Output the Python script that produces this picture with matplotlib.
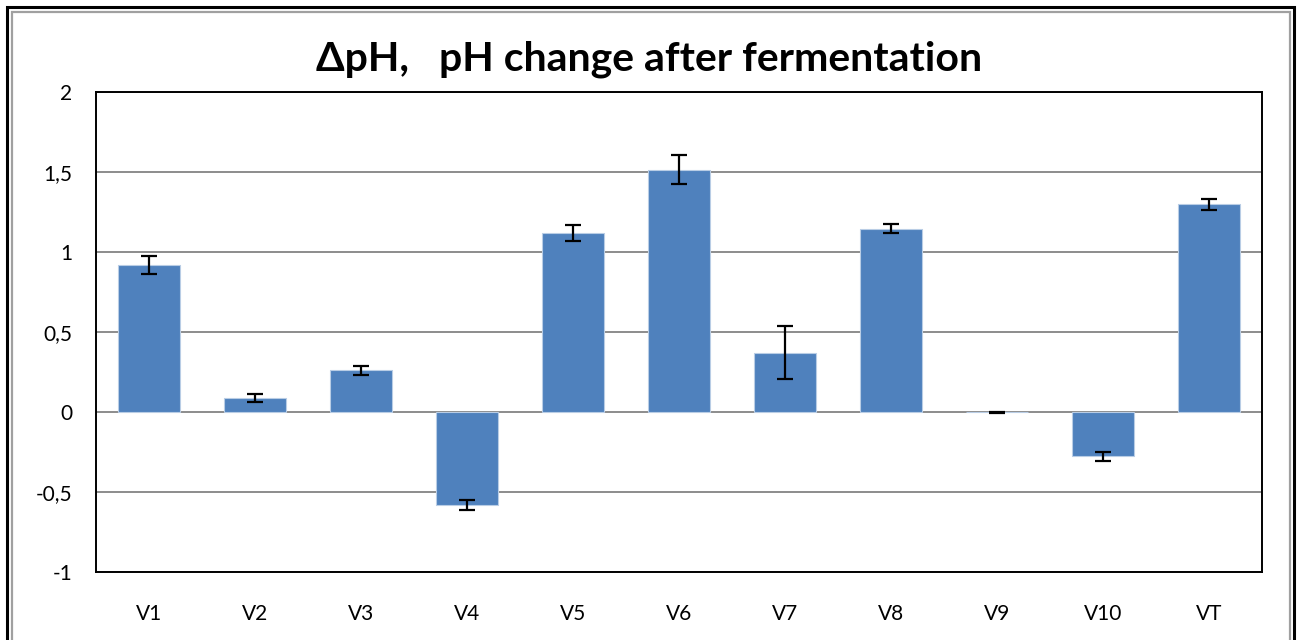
import matplotlib.pyplot as plt
from matplotlib.patches import Rectangle
from matplotlib.ticker import FuncFormatter

labels = ["V1", "V2", "V3", "V4", "V5", "V6", "V7", "V8", "V9", "V10", "VT"]
delta_ph = [0.92, 0.09, 0.26, -0.58, 1.12, 1.515, 0.37, 1.145, 0.0, -0.275, 1.30]
err = [0.058, 0.025, 0.03, 0.033, 0.05, 0.09, 0.165, 0.028, 0.003, 0.028, 0.034]

plt.rcParams["font.family"] = ["Lato", "DejaVu Sans"]

fig = plt.figure(figsize=(13.03, 6.4), dpi=100)
ax = fig.add_axes([0.0737, 0.10625, 0.8948, 0.74975])

x = range(len(labels))
ax.bar(x, delta_ph, width=0.58, color="#4F81BD", edgecolor="#B9CDE5", linewidth=0.8, zorder=3)
ax.errorbar(x, delta_ph, yerr=err, fmt="none", ecolor="black", elinewidth=1.6,
            capsize=5.5, capthick=1.6, zorder=4)

ax.set_xlim(-0.5, len(labels) - 0.5)
ax.set_ylim(-1, 2)
ax.set_yticks([-1, -0.5, 0, 0.5, 1, 1.5, 2])
ax.yaxis.set_major_formatter(FuncFormatter(lambda v, p: ("%g" % v).replace(".", ",")))
ax.set_xticks(list(x))
ax.set_xticklabels(labels)
ax.tick_params(axis="both", length=0, labelsize=15, colors="black")
ax.tick_params(axis="x", pad=23)
ax.tick_params(axis="y", pad=17)
ax.yaxis.grid(True, color="#8C8C8C", linewidth=1.4, zorder=0)
ax.set_axisbelow(True)
for s in ax.spines.values():
    s.set_color("black")
    s.set_linewidth(1.4)

fig.text(0.498, 0.907, "ΔpH,   pH change after fermentation", ha="center", va="center",
         fontsize=29.5, fontweight="bold")

# double frame around the chart, bottom cut off
fig.patches.append(Rectangle((7 / 1303, -0.1), 1287 / 1303, 1.1 - 7 / 640,
                             transform=fig.transFigure, fill=False, edgecolor="black",
                             linewidth=2.2, clip_on=False))
fig.patches.append(Rectangle((11.5 / 1303, -0.1), 1278.5 / 1303, 1.1 - 11.5 / 640,
                             transform=fig.transFigure, fill=False, edgecolor="#A0A0A0",
                             linewidth=1.6, clip_on=False))

fig.savefig("out.png", dpi=100)
